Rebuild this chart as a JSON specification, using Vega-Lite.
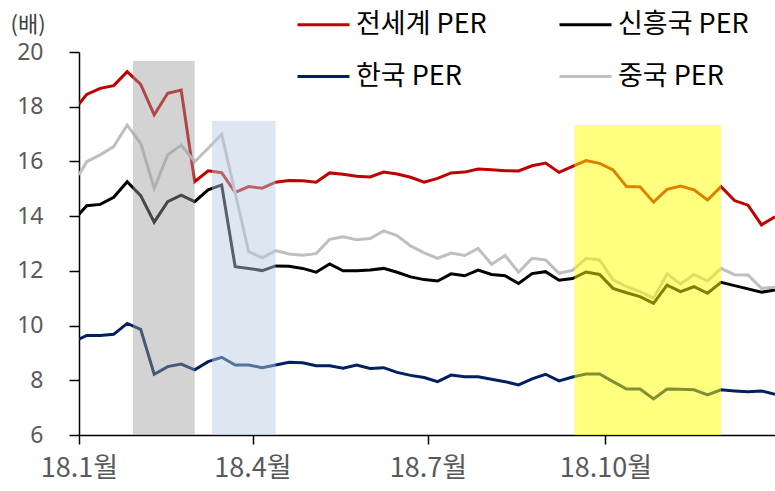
{
  "$schema": "https://vega.github.io/schema/vega-lite/v6.json",
  "width": 696,
  "height": 383,
  "autosize": {"type": "none"},
  "padding": {"left": 79, "top": 52, "right": 0, "bottom": 56},
  "config": {"view": {"stroke": null}, "font": "Noto Sans CJK KR"},
  "layer": [
    {
      "data": {"values": [
        {"date": "2018-01-01", "전세계 PER": 18.10, "신흥국 PER": 14.07, "중국 PER": 15.50, "한국 PER": 9.50},
        {"date": "2018-01-05", "전세계 PER": 18.45, "신흥국 PER": 14.38, "중국 PER": 15.99, "한국 PER": 9.64},
        {"date": "2018-01-12", "전세계 PER": 18.67, "신흥국 PER": 14.43, "중국 PER": 16.24, "한국 PER": 9.64},
        {"date": "2018-01-19", "전세계 PER": 18.77, "신흥국 PER": 14.69, "중국 PER": 16.54, "한국 PER": 9.68},
        {"date": "2018-01-26", "전세계 PER": 19.28, "신흥국 PER": 15.26, "중국 PER": 17.33, "한국 PER": 10.08},
        {"date": "2018-02-02", "전세계 PER": 18.82, "신흥국 PER": 14.75, "중국 PER": 16.66, "한국 PER": 9.86},
        {"date": "2018-02-09", "전세계 PER": 17.70, "신흥국 PER": 13.78, "중국 PER": 15.02, "한국 PER": 8.22},
        {"date": "2018-02-16", "전세계 PER": 18.49, "신흥국 PER": 14.53, "중국 PER": 16.24, "한국 PER": 8.50},
        {"date": "2018-02-23", "전세계 PER": 18.61, "신흥국 PER": 14.77, "중국 PER": 16.60, "한국 PER": 8.59},
        {"date": "2018-03-02", "전세계 PER": 15.26, "신흥국 PER": 14.53, "중국 PER": 15.99, "한국 PER": 8.38},
        {"date": "2018-03-09", "전세계 PER": 15.66, "신흥국 PER": 14.96, "중국 PER": 16.48, "한국 PER": 8.68},
        {"date": "2018-03-16", "전세계 PER": 15.59, "신흥국 PER": 15.14, "중국 PER": 16.99, "한국 PER": 8.84},
        {"date": "2018-03-23", "전세계 PER": 14.87, "신흥국 PER": 12.15, "중국 PER": 14.85, "한국 PER": 8.56},
        {"date": "2018-03-30", "전세계 PER": 15.08, "신흥국 PER": 12.09, "중국 PER": 12.70, "한국 PER": 8.56},
        {"date": "2018-04-06", "전세계 PER": 15.02, "신흥국 PER": 12.01, "중국 PER": 12.48, "한국 PER": 8.46},
        {"date": "2018-04-13", "전세계 PER": 15.24, "신흥국 PER": 12.18, "중국 PER": 12.74, "한국 PER": 8.56},
        {"date": "2018-04-20", "전세계 PER": 15.30, "신흥국 PER": 12.17, "중국 PER": 12.62, "한국 PER": 8.66},
        {"date": "2018-04-27", "전세계 PER": 15.29, "신흥국 PER": 12.09, "중국 PER": 12.57, "한국 PER": 8.64},
        {"date": "2018-05-04", "전세계 PER": 15.24, "신흥국 PER": 11.95, "중국 PER": 12.63, "한국 PER": 8.53},
        {"date": "2018-05-11", "전세계 PER": 15.58, "신흥국 PER": 12.25, "중국 PER": 13.15, "한국 PER": 8.53},
        {"date": "2018-05-18", "전세계 PER": 15.53, "신흥국 PER": 12.00, "중국 PER": 13.25, "한국 PER": 8.44},
        {"date": "2018-05-25", "전세계 PER": 15.46, "신흥국 PER": 12.00, "중국 PER": 13.14, "한국 PER": 8.56},
        {"date": "2018-06-01", "전세계 PER": 15.43, "신흥국 PER": 12.03, "중국 PER": 13.18, "한국 PER": 8.43},
        {"date": "2018-06-08", "전세계 PER": 15.61, "신흥국 PER": 12.09, "중국 PER": 13.46, "한국 PER": 8.46},
        {"date": "2018-06-15", "전세계 PER": 15.54, "신흥국 PER": 11.95, "중국 PER": 13.29, "한국 PER": 8.29},
        {"date": "2018-06-22", "전세계 PER": 15.42, "신흥국 PER": 11.78, "중국 PER": 12.91, "한국 PER": 8.18},
        {"date": "2018-06-29", "전세계 PER": 15.24, "신흥국 PER": 11.68, "중국 PER": 12.66, "한국 PER": 8.10},
        {"date": "2018-07-06", "전세계 PER": 15.38, "신흥국 PER": 11.63, "중국 PER": 12.46, "한국 PER": 7.95},
        {"date": "2018-07-13", "전세계 PER": 15.58, "신흥국 PER": 11.89, "중국 PER": 12.65, "한국 PER": 8.19},
        {"date": "2018-07-20", "전세계 PER": 15.61, "신흥국 PER": 11.82, "중국 PER": 12.56, "한국 PER": 8.13},
        {"date": "2018-07-27", "전세계 PER": 15.72, "신흥국 PER": 12.03, "중국 PER": 12.82, "한국 PER": 8.13},
        {"date": "2018-08-03", "전세계 PER": 15.70, "신흥국 PER": 11.87, "중국 PER": 12.24, "한국 PER": 8.04},
        {"date": "2018-08-10", "전세계 PER": 15.66, "신흥국 PER": 11.82, "중국 PER": 12.56, "한국 PER": 7.95},
        {"date": "2018-08-17", "전세계 PER": 15.65, "신흥국 PER": 11.54, "중국 PER": 11.95, "한국 PER": 7.83},
        {"date": "2018-08-24", "전세계 PER": 15.84, "신흥국 PER": 11.90, "중국 PER": 12.46, "한국 PER": 8.05},
        {"date": "2018-08-31", "전세계 PER": 15.94, "신흥국 PER": 11.97, "중국 PER": 12.40, "한국 PER": 8.22},
        {"date": "2018-09-07", "전세계 PER": 15.60, "신흥국 PER": 11.66, "중국 PER": 11.91, "한국 PER": 7.98},
        {"date": "2018-09-14", "전세계 PER": 15.82, "신흥국 PER": 11.72, "중국 PER": 12.02, "한국 PER": 8.12},
        {"date": "2018-09-21", "전세계 PER": 16.03, "신흥국 PER": 11.96, "중국 PER": 12.46, "한국 PER": 8.23},
        {"date": "2018-09-28", "전세계 PER": 15.93, "신흥국 PER": 11.87, "중국 PER": 12.40, "한국 PER": 8.23},
        {"date": "2018-10-05", "전세계 PER": 15.69, "신흥국 PER": 11.36, "중국 PER": 11.67, "한국 PER": 7.95},
        {"date": "2018-10-12", "전세계 PER": 15.08, "신흥국 PER": 11.20, "중국 PER": 11.42, "한국 PER": 7.68},
        {"date": "2018-10-19", "전세계 PER": 15.07, "신흥국 PER": 11.06, "중국 PER": 11.24, "한국 PER": 7.68},
        {"date": "2018-10-26", "전세계 PER": 14.51, "신흥국 PER": 10.81, "중국 PER": 11.00, "한국 PER": 7.32},
        {"date": "2018-11-02", "전세계 PER": 14.98, "신흥국 PER": 11.48, "중국 PER": 11.89, "한국 PER": 7.68},
        {"date": "2018-11-09", "전세계 PER": 15.10, "신흥국 PER": 11.24, "중국 PER": 11.52, "한국 PER": 7.67},
        {"date": "2018-11-16", "전세계 PER": 14.96, "신흥국 PER": 11.42, "중국 PER": 11.87, "한국 PER": 7.65},
        {"date": "2018-11-23", "전세계 PER": 14.59, "신흥국 PER": 11.18, "중국 PER": 11.63, "한국 PER": 7.47},
        {"date": "2018-11-30", "전세계 PER": 15.08, "신흥국 PER": 11.58, "중국 PER": 12.09, "한국 PER": 7.65},
        {"date": "2018-12-07", "전세계 PER": 14.57, "신흥국 PER": 11.46, "중국 PER": 11.86, "한국 PER": 7.61},
        {"date": "2018-12-14", "전세계 PER": 14.40, "신흥국 PER": 11.34, "중국 PER": 11.85, "한국 PER": 7.58},
        {"date": "2018-12-21", "전세계 PER": 13.68, "신흥국 PER": 11.22, "중국 PER": 11.36, "한국 PER": 7.61},
        {"date": "2018-12-28", "전세계 PER": 13.98, "신흥국 PER": 11.30, "중국 PER": 11.40, "한국 PER": 7.49}
      ]},
      "transform": [{"fold": ["전세계 PER", "신흥국 PER", "한국 PER", "중국 PER"], "as": ["series", "value"]}],
      "mark": {"type": "line", "strokeWidth": 3, "clip": true},
      "encoding": {
        "x": {
          "field": "date", "type": "temporal",
          "scale": {"type": "utc", "domain": [{"year": 2018, "month": 1, "date": 1, "utc": true}, {"year": 2018, "month": 12, "date": 28, "utc": true}]},
          "axis": {
            "values": [{"year": 2018, "month": 1, "date": 1, "utc": true}, {"year": 2018, "month": 4, "date": 1, "utc": true}, {"year": 2018, "month": 7, "date": 1, "utc": true}, {"year": 2018, "month": 10, "date": 1, "utc": true}],
            "labelExpr": "utcFormat(datum.value, '%y') + '.' + (utcmonth(datum.value) + 1) + '월'",
            "title": null, "grid": false, "labelFlush": false,
            "tickSize": 9, "tickWidth": 1.5, "tickColor": "#000000",
            "domainColor": "#000000", "domainWidth": 1.5,
            "labelFont": "Liberation Sans Narrow, Noto Sans CJK KR", "labelFontSize": 27, "labelColor": "#595959", "labelPadding": 11
          }
        },
        "y": {
          "field": "value", "type": "quantitative",
          "scale": {"domain": [6, 20], "nice": false, "zero": false},
          "axis": {
            "values": [6, 8, 10, 12, 14, 16, 18, 20],
            "title": "(배)", "titleAngle": 0, "titleAlign": "left", "titleBaseline": "alphabetic",
            "titleX": -69, "titleY": -21, "titleFontSize": 22, "titleFontWeight": "normal", "titleColor": "#404040", "titleFont": "Noto Sans CJK KR",
            "grid": false, "tickSize": 10, "tickWidth": 1.5, "tickColor": "#000000",
            "domainColor": "#000000", "domainWidth": 1.5,
            "labelFont": "Noto Sans", "labelFontSize": 23, "labelColor": "#595959", "labelPadding": 26
          }
        },
        "color": {
          "field": "series", "type": "nominal",
          "scale": {"domain": ["전세계 PER", "신흥국 PER", "한국 PER", "중국 PER"], "range": ["#c00000", "#000000", "#002060", "#bfbfbf"]},
          "legend": {
            "orient": "none", "legendX": 217, "legendY": -55, "columns": 2, "direction": "horizontal", "title": null,
            "symbolType": "stroke", "symbolSize": 2704, "symbolStrokeWidth": 3,
            "labelFont": "Noto Sans CJK KR", "labelFontSize": 27, "labelColor": "#000000", "labelOffset": 5,
            "columnPadding": 66, "rowPadding": 11
          }
        }
      }
    },
    {
      "data": {"values": [{"start": "2018-01-29", "end": "2018-03-02", "top": 19.67, "bottom": 6}]},
      "mark": {"type": "rect", "fill": "#9d9d9d", "opacity": 0.45},
      "encoding": {
        "x": {"field": "start", "type": "temporal"},
        "x2": {"field": "end"},
        "y": {"field": "top", "type": "quantitative"},
        "y2": {"field": "bottom"}
      }
    },
    {
      "data": {"values": [{"start": "2018-03-11", "end": "2018-04-13", "top": 17.48, "bottom": 6}]},
      "mark": {"type": "rect", "fill": "#b6cbe1", "opacity": 0.47},
      "encoding": {
        "x": {"field": "start", "type": "temporal"},
        "x2": {"field": "end"},
        "y": {"field": "top", "type": "quantitative"},
        "y2": {"field": "bottom"}
      }
    },
    {
      "data": {"values": [{"start": "2018-09-15", "end": "2018-11-30", "top": 17.33, "bottom": 6}]},
      "mark": {"type": "rect", "fill": "#ffff00", "opacity": 0.5},
      "encoding": {
        "x": {"field": "start", "type": "temporal"},
        "x2": {"field": "end"},
        "y": {"field": "top", "type": "quantitative"},
        "y2": {"field": "bottom"}
      }
    }
  ]
}
